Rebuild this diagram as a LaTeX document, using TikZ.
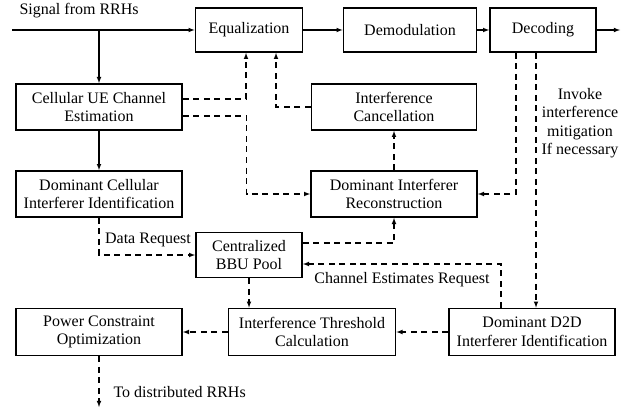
\documentclass[tikz,border=0pt]{standalone}
\usepackage{fontspec}
\setmainfont{Liberation Serif}
\usepackage{tikz}
\usetikzlibrary{calc, shapes, arrows}

\begin{document}
\begin{tikzpicture}[x=1pt,y=-1pt,font=\rmfamily\fontsize{16}{18.5}\selectfont]
\tikzstyle{stage}=[draw,line width=1.8pt,align=center,inner sep=2pt,minimum width=166pt,minimum height=46pt]
\tikzstyle{flow}=[line width=1.1pt,-latex]
\tikzstyle{ctrl}=[line width=1.1pt,-latex,dash pattern=on 6pt off 4.5pt]
\useasboundingbox (0,0) rectangle (644,414);
\node[stage,minimum width=107pt,minimum height=44pt] (eq) at (249,30) {Equalization};
\node[stage,minimum width=133pt,minimum height=44pt] (demod) at (410,30) {Demodulation};
\node[stage,minimum width=106pt,minimum height=44pt] (dec) at (543,30) {Decoding};
\node[stage] (cue) at (99,107) {Cellular UE Channel\\Estimation};
\node[stage,minimum width=165pt] (ic) at (394,107) {Interference\\Cancellation};
\node[stage] (dcii) at (99,194) {Dominant Cellular\\Interferer Identification};
\node[stage] (dir) at (394,194) {Dominant Interferer\\Reconstruction};
\node[stage,minimum width=106pt,minimum height=45pt] (bbu) at (249,255) {Centralized\\BBU Pool};
\node[stage,minimum height=47pt] (pco) at (99,332) {Power Constraint\\Optimization};
\node[stage,minimum width=167pt,minimum height=47pt] (itc) at (312,332) {Interference Threshold\\Calculation};
\node[stage,minimum height=47pt] (d2d) at (532,332) {Dominant D2D\\Interferer Identification};
\coordinate (in) at (12,30);
\coordinate (sink) at (620,30);
\coordinate (out) at (99,407);
% labels
\node[anchor=west] (sig) at (16,11) {Signal from RRHs};
\node (datareq) at (148,240) {Data Request};
\node (chreq) at (402,280) {Channel Estimates Request};
\node[anchor=west] (todist) at (110,392) {To distributed RRHs};
\node[align=center] (invoke) at (580,123) {Invoke\\interference\\mitigation\\If necessary};
% main chain
\draw[flow] (in) -- (eq.west);
\draw[flow] (cue.north |- in) -- (cue.north);
\draw[flow] (eq.east) -- (demod.west);
\draw[flow] (demod.east) -- (dec.west);
\draw[flow] (dec.east) -- (sink);
\draw[flow] (cue.south) -- (dcii.north);
% control paths
\draw[ctrl] ([yshift=8pt]cue.east) -| ([xshift=-3pt]eq.south);
\draw[ctrl] (ic.west) -| ([xshift=27pt]eq.south);
\draw[ctrl] ([yshift=-9pt]cue.east) -- ++(64,0) |- (dir.west);
\draw[ctrl] (dir.north) -- (ic.south);
\draw[ctrl] ([xshift=-27pt]dec.south) |- (dir.east);
\draw[ctrl] ([xshift=-7pt]dec.south) -- ([xshift=-7pt]dec.south |- d2d.north);
\draw[ctrl] (dcii.south) |- (bbu.west);
\draw[ctrl] ([yshift=12pt]bbu.east) -| (dir.south);
\draw[ctrl] ([xshift=-31pt]d2d.north) |- ([yshift=-9pt]bbu.east);
\draw[ctrl] (bbu.south) -- (bbu.south |- itc.north);
\draw[ctrl] (d2d.west) -- (itc.east);
\draw[ctrl] (itc.west) -- (pco.east);
\draw[ctrl] (pco.south) -- (out);
\end{tikzpicture}
\end{document}
